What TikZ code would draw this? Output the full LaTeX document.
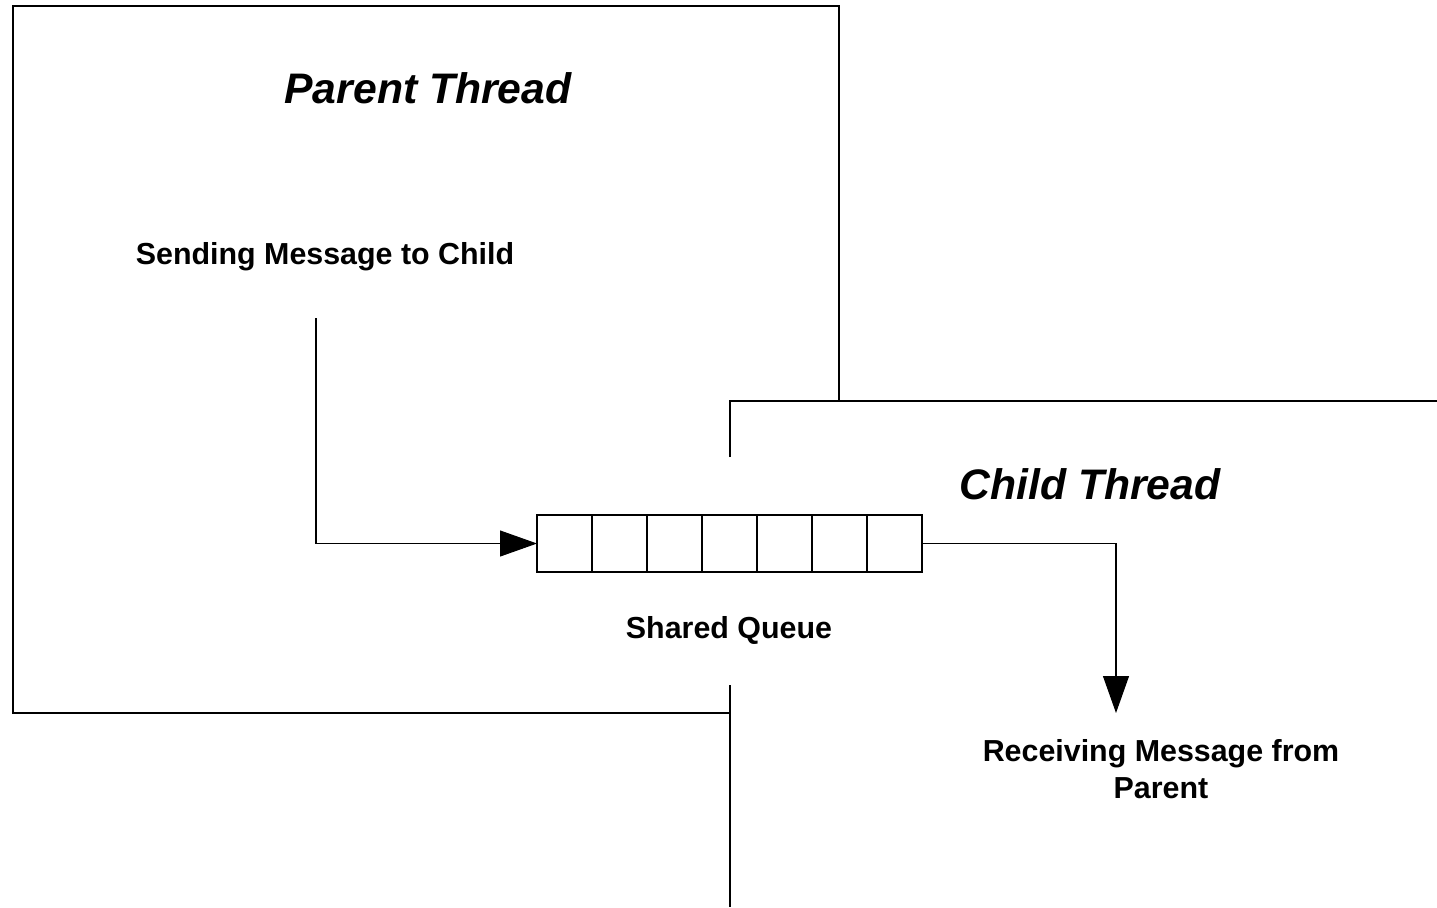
\documentclass[tikz,border=0pt]{standalone}
\usepackage{fontspec}
\setmainfont{Liberation Sans}
\usetikzlibrary{arrows.meta}

\tikzset{
  wall/.style={line width=0.6pt},
  cell/.style={draw, line width=0.6pt, minimum width=1.1cm, minimum height=1.14cm, inner sep=0pt, outer sep=0pt},
  msg/.style={font=\fontsize{17.3}{21}\selectfont\bfseries, align=center},
  title/.style={font=\fontsize{24.3}{29}\selectfont\bfseries\itshape},
  flow/.style={line width=0.6pt, -{Triangle[length=0.74cm,width=0.52cm]}}
}

\begin{document}
\begin{tikzpicture}[x=0.02cm, y=-0.02cm]
        \useasboundingbox (0, 0) rectangle (1437, 907);
        \draw[wall] (730, 713) -- (13, 713) -- (13, 6) -- (839, 6) -- (839, 401);
        \draw[wall] (730, 457) -- (730, 401) -- (1437, 401);
        \draw[wall] (730, 685) -- (730, 907);
        \node[title] (parent) at (428, 88) {Parent Thread};
        \node[title] (child) at (1090, 484) {Child Thread};
        \node[msg] (send) at (325, 257) {Sending Message to Child};
        \node[msg] (queue) at (729, 630) {Shared Queue};
        \node[msg] (recv) at (1161, 769) {Receiving Message from\\Parent};
        \foreach \i in {1,...,7}
          \node[cell] (q\i) at ({509.5 + 55*\i}, 543.5) {};
        \coordinate (sendout) at (316, 318);
        \coordinate (recvin) at (1116, 713);
        \draw[flow] (sendout) |- (q1.west);
        \draw[flow] (q7.east) -| (recvin);
      \end{tikzpicture}
\end{document}
